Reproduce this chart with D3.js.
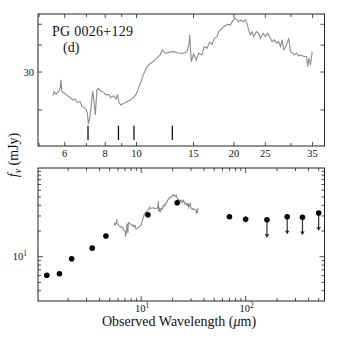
<!DOCTYPE html>
<html><head><meta charset="utf-8">
<script src="https://cdn.jsdelivr.net/npm/d3@7/dist/d3.min.js"></script>
<style>body{margin:0;background:#fff}svg{display:block}text{font-family:"Liberation Serif","Times New Roman",serif;fill:#111}</style>
</head><body>
<script>
// ---- data ----
const objectName = "PG 0026+129";
const panelTag = "(d)";
const redshift = 0.142;
const featureRest = [6.2, 7.7, 8.6, 11.3];
const featureFlux = [14.5, 16.9];
const specWave = [5.51,5.56,5.64,5.73,5.81,5.84,5.875,5.90,6.00,6.11,6.23,6.35,6.45,6.56,6.69,6.77,6.88,6.98,7.05,7.10,7.18,7.25,7.32,7.39,7.46,7.54,7.62,7.75,7.90,8.05,8.19,8.33,8.48,8.65,8.73,8.82,8.94,9.11,9.33,9.56,9.78,9.97,10.14,10.31,10.50,10.71,10.96,11.23,11.56,11.83,12.00,12.26,12.71,13.08,13.49,13.98,14.32,14.52,14.60,14.76,15.01,15.30,15.55,15.93,16.19,16.51,16.82,17.12,17.39,17.74,17.94,18.16,18.38,18.59,18.95,19.26,19.50,19.82,20.21,20.45,20.68,21.04,21.35,21.70,21.96,22.22,22.49,22.76,23.02,23.47,23.86,24.14,24.61,25.02,25.43,25.93,26.25,26.68,27.06,27.51,27.85,28.18,28.51,29.06,29.54,29.90,30.48,30.76,31.21,31.72,32.28,32.88,33.52,33.83,34.07,34.49,34.91];
const specFlux = [23.3,24.3,23.6,24.2,25.3,27.6,24.5,24.2,23.9,23.3,22.8,22.25,22.5,21.7,21.85,20.9,20.5,20.2,19.3,17.2,18.6,21.1,24.5,21.85,18.95,24.8,25.2,24.5,24.2,23.5,23.6,22.8,23.3,22.5,23.6,21.7,21.1,21.4,21.85,22.25,22.8,23.6,25.2,26.9,29.1,31.2,32.6,33.5,34.8,36.0,38.0,36.7,37.1,37.3,36.7,36.7,37.3,40.4,44.6,33.5,36.4,34.1,36.7,36.0,39.4,38.7,41.2,40.4,43.05,43.8,46.2,47.0,47.9,48.7,49.6,50.0,49.6,51.8,53.3,52.4,51.4,52.4,51.4,52.4,50.5,47.0,44.6,46.2,43.8,46.2,45.4,43.05,45.4,43.8,45.4,43.05,41.5,42.3,40.8,41.5,39.4,42.3,38.0,40.1,43.05,37.3,36.7,36.0,36.7,35.7,36.0,35.4,35.4,31.8,34.8,32.4,37.3];
const photWave = [1.25,1.65,2.16,3.4,4.6,11.6,22.1,70,100];
const photFlux = [6.06,6.32,9.48,12.6,17.5,31.0,42.9,29.4,27.4];
const photErr  = [0,0,0,0,0,0,0,1.5,2.2];
const limWave = [160,250,350,500];
const limFlux = [27.1,29.4,28.9,32.5];
const limTip  = [16.7,18.3,17.9,20.2];
const topXTicks = [5,6,7,8,9,10,15,20,25,30,35];
const topXLabels = [6,8,10,15,20,25,35];
const topYTicks = [20,30,40,50];
const topYLabels = [30];
const botXMajor = [10,100];
const botYMajor = [10];

// ---- layout ----
const svg = d3.select("body").append("svg").attr("width",339).attr("height",339);
const L=38, R=324.5;
const T1=14, B1=146, T2=168, B2=301;

const x1 = d3.scaleLog().domain([4.96,38.1]).range([L,R]);
const y1 = d3.scaleLog().domain([13.6,55.8]).range([B1,T1]);
const x2 = d3.scaleLog().domain([1.029,568.6]).range([L,R]);
const y2 = d3.scaleLog().domain([3.03,109.3]).range([B2,T2]);

function frame(T,B){
  svg.append("rect").attr("x",L).attr("y",T).attr("width",R-L).attr("height",B-T)
    .attr("fill","none").attr("stroke","#222").attr("stroke-width",1);
}
function xTicks(sc,T,B,vals,len){
  vals.forEach(v=>{const X=sc(v);
    svg.append("line").attr("x1",X).attr("x2",X).attr("y1",B).attr("y2",B-len).attr("stroke","#222").attr("stroke-width",0.8);
    svg.append("line").attr("x1",X).attr("x2",X).attr("y1",T).attr("y2",T+len).attr("stroke","#222").attr("stroke-width",0.8);
  });
}
function yTicks(sc,vals,len){
  vals.forEach(v=>{const Y=sc(v);
    svg.append("line").attr("x1",L).attr("x2",L+len).attr("y1",Y).attr("y2",Y).attr("stroke","#222").attr("stroke-width",0.8);
    svg.append("line").attr("x1",R).attr("x2",R-len).attr("y1",Y).attr("y2",Y).attr("stroke","#222").attr("stroke-width",0.8);
  });
}

// ---- top panel ----
xTicks(x1,T1,B1,topXTicks.filter(v=>!topXLabels.includes(v)),3);
xTicks(x1,T1,B1,topXLabels,4);
yTicks(y1,topYTicks,4);
topXLabels.forEach(v=>svg.append("text").attr("x",x1(v)).attr("y",157).attr("text-anchor","middle").attr("font-size",10.5).text(v));
topYLabels.forEach(v=>svg.append("text").attr("x",34).attr("y",y1(v)+3.5).attr("text-anchor","end").attr("font-size",10.5).text(v));

const spec = specWave.map((w,i)=>[w,specFlux[i]]);
svg.append("path").datum(spec).attr("fill","none").attr("stroke","#8c8c8c").attr("stroke-width",1.1)
  .attr("d",d3.line().x(d=>x1(d[0])).y(d=>y1(d[1])));

featureRest.forEach(w=>{const X=x1(w*(1+redshift));
  svg.append("line").attr("x1",X).attr("x2",X).attr("y1",y1(featureFlux[0])).attr("y2",y1(featureFlux[1]))
    .attr("stroke","#111").attr("stroke-width",1.3);
});
svg.append("text").attr("x",52).attr("y",35.8).attr("font-size",14).attr("textLength",81).text(objectName);
svg.append("text").attr("x",63).attr("y",51.6).attr("font-size",14).text(panelTag);
frame(T1,B1);

// ---- bottom panel ----
const minorX = x2.ticks().filter(v=>!botXMajor.includes(v));
xTicks(x2,T2,B2,minorX,3);
xTicks(x2,T2,B2,botXMajor,5);
const minorY = y2.ticks().filter(v=>!botYMajor.includes(v));
yTicks(y2,minorY,3);
yTicks(y2,botYMajor,5);
botXMajor.forEach(v=>{
  const t=svg.append("text").attr("x",x2(v)+1).attr("y",311.5).attr("text-anchor","middle").attr("font-size",10.5);
  t.append("tspan").text("10");
  t.append("tspan").attr("dy",-4).attr("font-size",7.5).text(Math.round(Math.log10(v)));
});
botYMajor.forEach(v=>{
  const t=svg.append("text").attr("x",27).attr("y",y2(v)+3.5).attr("text-anchor","end").attr("font-size",10.5);
  t.append("tspan").text("10");
  t.append("tspan").attr("dy",-4).attr("font-size",7.5).text(Math.round(Math.log10(v)));
});

svg.append("path").datum(spec).attr("fill","none").attr("stroke","#8c8c8c").attr("stroke-width",1.1)
  .attr("d",d3.line().x(d=>x2(d[0])).y(d=>y2(d[1])));

photWave.forEach((w,i)=>{
  if(photErr[i]>0){
    svg.append("line").attr("x1",x2(w)).attr("x2",x2(w)).attr("y1",y2(photFlux[i]-photErr[i])).attr("y2",y2(photFlux[i]+photErr[i]))
      .attr("stroke","#222").attr("stroke-width",1);
  }
  svg.append("circle").attr("cx",x2(w)).attr("cy",y2(photFlux[i])).attr("r",2.8).attr("fill","#000");
});
limWave.forEach((w,i)=>{
  const X=x2(w), Y0=y2(limFlux[i]), Y1=y2(limTip[i]);
  svg.append("line").attr("x1",X).attr("x2",X).attr("y1",Y0).attr("y2",Y1-2).attr("stroke","#333").attr("stroke-width",1.2);
  svg.append("path").attr("d",`M${X-2.2},${Y1-3.5}L${X+2.2},${Y1-3.5}L${X},${Y1}Z`).attr("fill","#222");
  svg.append("circle").attr("cx",X).attr("cy",Y0).attr("r",2.8).attr("fill","#000");
});
frame(T2,B2);

svg.append("text").attr("x",179).attr("y",326).attr("text-anchor","middle").attr("font-size",14)
  .html('Observed Wavelength (<tspan font-style="italic">μ</tspan>m)');
const yl = svg.append("text").attr("transform","translate(18,155) rotate(-90)").attr("text-anchor","middle").attr("font-size",14);
yl.append("tspan").attr("font-style","italic").text("f");
yl.append("tspan").attr("font-style","italic").attr("font-size",10).attr("dy",3).text("ν");
yl.append("tspan").attr("dy",-3).text(" (mJy)");
</script>
</body></html>
